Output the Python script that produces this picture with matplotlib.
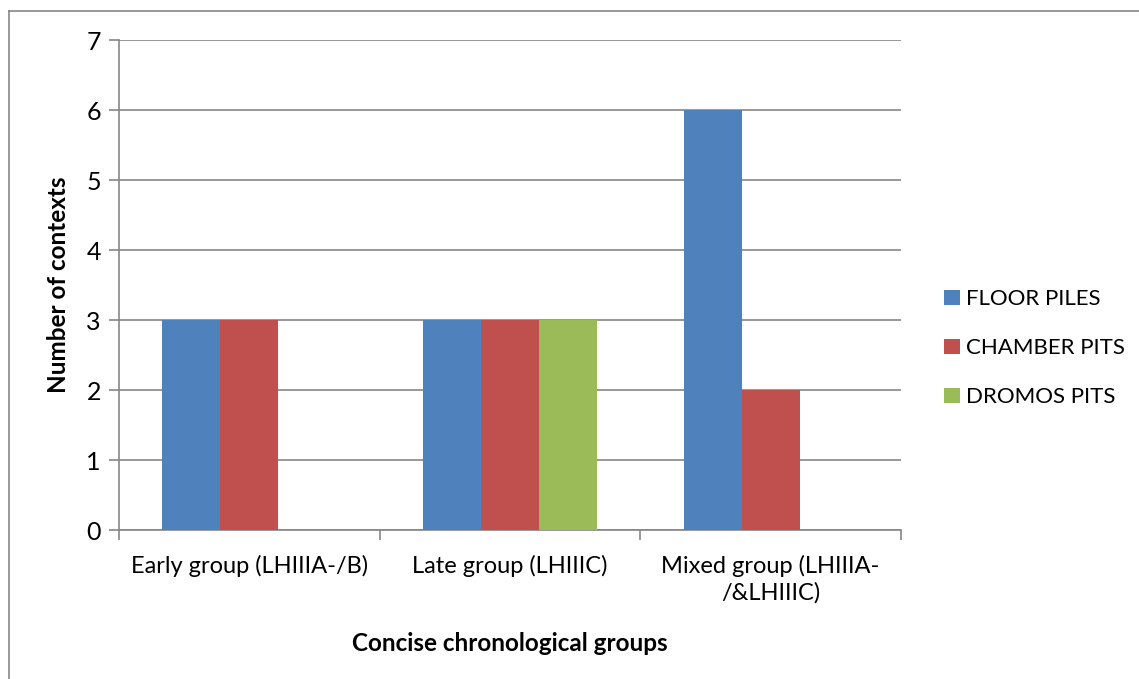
import numpy as np
import matplotlib.pyplot as plt
from matplotlib.lines import Line2D

groups = ["Early group (LHIIIA-/B)", "Late group (LHIIIC)", "Mixed group (LHIIIA-\n/&LHIIIC)"]
floor_piles = [3, 3, 6]
chamber_pits = [3, 3, 2]
dromos_pits = [0, 3, 0]
series_names = ["FLOOR PILES", "CHAMBER PITS", "DROMOS PITS"]
colors = ["#4F81BD", "#C0504D", "#9BBB59"]

plt.rcParams['font.family'] = ['Lato', 'DejaVu Sans']

fig = plt.figure(figsize=(11.39, 6.79), dpi=100)
ax = fig.add_axes([119/1139, 1-530/679, (901-119)/1139, (530-40)/679])

x = np.arange(len(groups))
w = 0.2225
for i, (vals, name, c) in enumerate(zip([floor_piles, chamber_pits, dromos_pits], series_names, colors)):
    ax.bar(x + (i-1)*w, vals, w, color=c, label=name, zorder=3)

ax.set_xlim(-0.5, 2.5)
ax.set_ylim(0, 7)
ax.set_yticks(range(8))
ax.grid(axis='y', color='#868686', linewidth=1.2, zorder=0)
ax.set_xticks(x)
ax.set_xticklabels(groups, fontsize=17, linespacing=1.3)
ax.set_xticks([-0.5, 0.5, 1.5, 2.5], minor=True)
ax.tick_params(axis='x', which='major', length=0, pad=18)
ax.tick_params(axis='x', which='minor', length=7, color='#868686', width=1.2)
ax.tick_params(axis='y', labelsize=18, length=7, color='#868686', width=1.2, pad=6)
for s in ['top', 'right']:
    ax.spines[s].set_visible(False)
for s in ['left', 'bottom']:
    ax.spines[s].set_color('#868686')
    ax.spines[s].set_linewidth(1.2)

ax.set_xlabel("Concise chronological groups", fontsize=17.5, fontweight='bold', labelpad=20)
ax.set_ylabel("Number of contexts", fontsize=17.5, fontweight='bold', labelpad=12)

ax.legend(loc='center left', bbox_to_anchor=(1.03, 0.371), frameon=False, fontsize=16,
          handlelength=0.7, handleheight=0.7, handletextpad=0.25, labelspacing=1.3)

fig.add_artist(Line2D([9/1139, 1], [1-11/679, 1-11/679], color='#868686', linewidth=1.2))
fig.add_artist(Line2D([9/1139, 9/1139], [0, 1-11/679], color='#868686', linewidth=1.2))

fig.savefig("out.png", dpi=100)
